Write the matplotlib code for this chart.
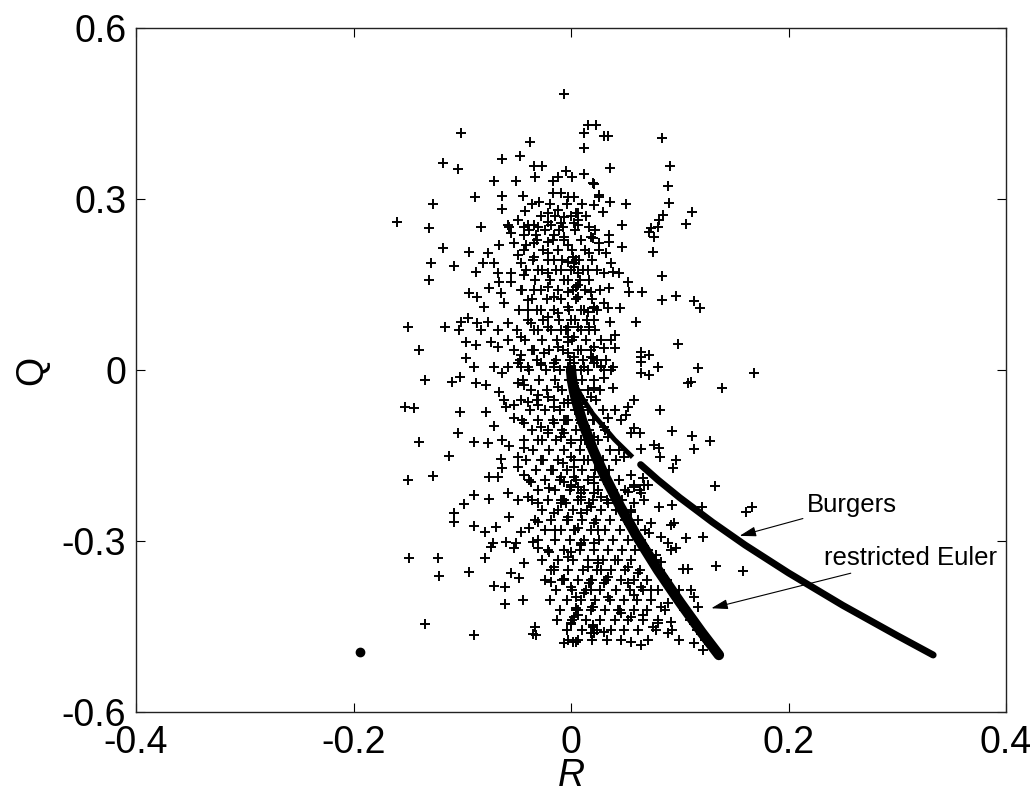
# Q-R invariant scatter with the Burgers and restricted Euler tails
import numpy as np
import matplotlib.pyplot as plt

plt.rcParams['font.family'] = ['Liberation Sans', 'DejaVu Sans']

# sample points (R, Q), grouped by height in the plane
cloud_upper = np.array([
    (-0.006, 0.484), (0.016, 0.430), (0.023, 0.430), (0.012, 0.416), (-0.101, 0.416), (-0.038, 0.400),
    (0.012, 0.389), (-0.118, 0.363), (-0.104, 0.353), (-0.063, 0.370), (-0.047, 0.375), (-0.034, 0.358),
    (-0.027, 0.358), (-0.005, 0.349), (-0.033, 0.339), (-0.051, 0.332), (-0.071, 0.332), (-0.017, 0.332),
    (-0.012, 0.339), (0.001, 0.339), (0.012, 0.344), (0.020, 0.328), (-0.088, 0.303), (-0.063, 0.305),
    (-0.044, 0.305), (-0.029, 0.295), (-0.017, 0.310), (-0.009, 0.310), (-0.003, 0.303), (0.003, 0.303),
    (-0.127, 0.291), (-0.063, 0.282), (-0.042, 0.279), (-0.021, 0.275), (-0.012, 0.281), (-0.006, 0.268),
    (0.006, 0.275), (0.021, 0.289), (0.026, 0.303), (-0.160, 0.260), (-0.131, 0.249), (-0.083, 0.251),
    (-0.058, 0.254), (-0.049, 0.263), (-0.043, 0.251), (-0.034, 0.254), (-0.021, 0.260), (-0.009, 0.258),
    (0.003, 0.258), (0.017, 0.251), (0.030, 0.410), (0.034, 0.410), (0.084, 0.407), (0.036, 0.354),
    (0.091, 0.358), (0.021, 0.326), (0.089, 0.323), (0.026, 0.307), (0.036, 0.295), (0.051, 0.291),
    (0.090, 0.293), (0.111, 0.277), (0.029, 0.277), (0.005, 0.275), (0.006, 0.263), (0.085, 0.272),
    (0.081, 0.263), (0.080, 0.251), (0.106, 0.256), (0.047, 0.254), (0.074, 0.249), (-0.057, 0.251),
    (-0.040, 0.254), (-0.030, 0.251), (-0.018, 0.254), (-0.007, 0.251), (0.006, 0.254), (-0.055, 0.240),
    (-0.043, 0.237), (-0.032, 0.237), (-0.016, 0.237), (-0.006, 0.233), (0.018, 0.233), (0.072, 0.242),
    (0.076, 0.233), (0.035, 0.237), (0.035, 0.225), (0.026, 0.223), (0.020, 0.232), (-0.003, 0.219),
    (0.047, 0.216), (-0.118, 0.214), (-0.094, 0.207), (-0.076, 0.205), (-0.066, 0.219), (-0.052, 0.223),
    (-0.041, 0.219), (-0.034, 0.223), (-0.021, 0.225), (0.075, 0.207), (0.017, 0.205), (0.032, 0.205),
])

cloud_mid = np.array([
    (-0.003, 0.189), (0.005, 0.193), (0.003, 0.181), (0.037, 0.188), (0.030, 0.170), (0.039, 0.172),
    (0.044, 0.170), (0.016, 0.175), (0.084, 0.165), (0.052, 0.154), (0.035, 0.144), (0.053, 0.137),
    (0.065, 0.137), (0.097, 0.130), (0.084, 0.123), (0.113, 0.121), (0.119, 0.109), (0.005, 0.146),
    (0.006, 0.128), (0.030, 0.118), (0.034, 0.109), (0.021, 0.109), (0.016, 0.102), (0.045, 0.109),
    (0.060, 0.084), (0.036, 0.084), (0.021, 0.088), (0.017, 0.075), (0.000, 0.088), (-0.003, 0.075),
    (0.040, 0.061), (0.037, 0.053), (0.003, 0.058), (-0.003, 0.049), (0.098, 0.046), (0.021, 0.040),
    (0.030, 0.039), (0.040, 0.039), (0.064, 0.032), (0.064, 0.023), (0.072, 0.026), (0.020, 0.021),
    (0.032, 0.018), (0.080, 0.005), (0.117, 0.004), (0.168, -0.005), (0.003, 0.023), (0.012, 0.005),
    (0.028, 0.007), (0.039, 0.005), (-0.129, 0.188), (-0.108, 0.182), (-0.087, 0.172), (-0.081, 0.188),
    (-0.071, 0.188), (-0.049, 0.202), (-0.046, 0.188), (-0.034, 0.198), (-0.021, 0.205), (-0.016, 0.193),
    (0.002, 0.198), (0.003, 0.188), (-0.131, 0.158), (-0.067, 0.170), (-0.055, 0.170), (-0.066, 0.154),
    (-0.055, 0.154), (-0.043, 0.167), (-0.030, 0.175), (-0.021, 0.170), (-0.009, 0.175), (-0.003, 0.158),
    (0.006, 0.170), (-0.075, 0.144), (-0.094, 0.135), (-0.086, 0.128), (-0.064, 0.135), (-0.062, 0.118),
    (-0.046, 0.140), (-0.040, 0.123), (-0.034, 0.140), (-0.021, 0.146), (-0.016, 0.128), (-0.003, 0.137),
    (0.006, 0.149), (0.018, 0.137), (-0.080, 0.111), (-0.040, 0.105), (-0.028, 0.105), (-0.021, 0.093),
    (-0.012, 0.100), (-0.003, 0.111), (0.009, 0.105), (0.021, 0.111), (-0.150, 0.075), (-0.116, 0.075),
    (-0.101, 0.084), (-0.095, 0.091), (-0.103, 0.070), (-0.086, 0.082), (-0.076, 0.084), (-0.083, 0.070),
    (-0.067, 0.070), (-0.058, 0.082), (-0.046, 0.058), (-0.037, 0.082), (-0.030, 0.070), (-0.021, 0.075),
    (-0.009, 0.070), (-0.003, 0.058), (0.006, 0.075), (0.017, 0.070), (-0.140, 0.035), (-0.097, 0.049),
    (-0.087, 0.044), (-0.074, 0.049), (-0.067, 0.040), (-0.058, 0.053), (-0.052, 0.035), (-0.046, 0.026),
    (-0.034, 0.035), (-0.025, 0.030), (-0.012, 0.040), (-0.003, 0.030), (0.009, 0.035), (0.018, 0.023),
    (-0.097, 0.021), (-0.089, 0.005), (-0.071, 0.005), (-0.058, 0.005), (-0.046, 0.005), (-0.028, 0.012),
    (-0.016, 0.005), (0.003, 0.012), (-0.063, -0.005), (-0.049, 0.012), (-0.040, 0.005), (-0.028, 0.009),
    (-0.016, 0.012), (-0.003, 0.005), (0.009, 0.000), (0.021, 0.012), (-0.134, -0.018), (-0.109, -0.021),
    (-0.102, -0.012), (-0.087, -0.023), (-0.078, -0.026), (-0.066, -0.039), (-0.062, -0.053), (-0.060, -0.065),
    (-0.049, -0.023), (-0.043, -0.026), (-0.030, -0.044), (-0.021, -0.047), (-0.012, -0.030), (0.003, -0.023),
    (0.016, -0.035), (-0.153, -0.065), (-0.144, -0.067), (-0.102, -0.074), (-0.078, -0.074), (-0.052, -0.061),
    (-0.040, -0.056), (-0.030, -0.061), (-0.016, -0.065), (-0.003, -0.058), (0.009, -0.065), (-0.071, -0.098),
    (-0.052, -0.084), (-0.043, -0.093), (-0.028, -0.100), (-0.016, -0.093), (-0.003, -0.088), (0.009, -0.093),
    (0.021, -0.088), (0.028, 0.005), (0.037, 0.000), (0.030, -0.014), (0.064, 0.014), (0.064, -0.005),
    (0.072, -0.009), (0.080, 0.005), (0.108, -0.023), (0.110, -0.021), (0.139, -0.032), (0.039, -0.032),
    (0.021, -0.032), (0.018, -0.047), (0.058, -0.053), (0.052, -0.065), (0.051, -0.079), (0.046, -0.088),
    (0.082, -0.070), (0.040, -0.070), (0.034, -0.084), (0.006, -0.070), (-0.006, -0.058), (-0.005, -0.088),
])

cloud_lower = np.array([
    (0.030, -0.100), (0.034, -0.118), (0.058, -0.102), (0.055, -0.111), (0.063, -0.111), (0.093, -0.107),
    (0.111, -0.116), (0.128, -0.125), (0.113, -0.139), (0.064, -0.139), (0.076, -0.132), (0.081, -0.137),
    (0.082, -0.153), (0.097, -0.158), (0.094, -0.172), (0.044, -0.140), (0.049, -0.153), (0.055, -0.184),
    (0.058, -0.205), (0.052, -0.214), (0.066, -0.189), (0.071, -0.202), (0.063, -0.211), (0.132, -0.204),
    (0.067, -0.228), (0.081, -0.240), (0.093, -0.237), (0.120, -0.240), (0.166, -0.240), (0.161, -0.249),
    (-0.006, -0.196), (0.003, -0.188), (0.006, -0.205), (0.021, -0.198), (0.028, -0.223), (0.009, -0.228),
    (-0.005, -0.233), (0.017, -0.233), (0.034, -0.233), (0.018, -0.135), (0.009, -0.123), (-0.006, -0.111),
    (0.000, -0.153), (0.012, -0.158), (-0.007, -0.163), (0.012, -0.100), (-0.104, -0.111), (-0.140, -0.126),
    (-0.089, -0.126), (-0.076, -0.128), (-0.063, -0.123), (-0.057, -0.133), (-0.049, -0.153), (-0.043, -0.137),
    (-0.030, -0.123), (-0.021, -0.111), (-0.009, -0.118), (0.000, -0.128), (0.009, -0.123), (0.021, -0.118),
    (-0.112, -0.151), (-0.064, -0.156), (-0.063, -0.172), (-0.150, -0.193), (-0.127, -0.186), (-0.075, -0.188),
    (-0.067, -0.188), (-0.049, -0.170), (-0.043, -0.184), (-0.037, -0.196), (-0.028, -0.158), (-0.018, -0.175),
    (-0.009, -0.188), (0.003, -0.170), (0.012, -0.158), (0.021, -0.188), (-0.089, -0.219), (-0.098, -0.235),
    (-0.075, -0.226), (-0.058, -0.216), (-0.049, -0.228), (-0.040, -0.223), (-0.030, -0.233), (-0.020, -0.207),
    (-0.009, -0.228), (0.000, -0.205), (0.009, -0.216), (0.021, -0.216), (-0.108, -0.251), (-0.108, -0.267),
    (-0.089, -0.274), (-0.079, -0.284), (-0.069, -0.275), (-0.057, -0.258), (-0.046, -0.284), (-0.039, -0.277),
    (-0.030, -0.267), (-0.016, -0.251), (-0.009, -0.233), (-0.003, -0.263), (0.003, -0.281), (0.009, -0.251),
    (0.018, -0.240), (0.025, -0.281), (-0.015, -0.281), (-0.072, -0.303), (-0.074, -0.310), (-0.060, -0.302),
    (-0.051, -0.303), (-0.052, -0.312), (-0.035, -0.302), (-0.030, -0.312), (-0.020, -0.319), (-0.006, -0.316),
    (0.000, -0.319), (0.009, -0.303), (0.021, -0.303), (-0.149, -0.330), (-0.122, -0.330), (-0.079, -0.330),
    (-0.121, -0.361), (-0.094, -0.354), (-0.043, -0.339), (-0.055, -0.356), (-0.048, -0.365), (-0.016, -0.346),
    (-0.016, -0.351), (0.016, -0.346), (0.025, -0.333), (-0.071, -0.379), (-0.061, -0.381), (-0.018, -0.372),
    (-0.006, -0.367), (0.000, -0.381), (0.017, -0.374), (0.018, -0.386), (0.005, -0.398), (0.012, -0.391),
    (-0.044, -0.403), (-0.061, -0.410), (0.019, -0.416), (0.005, -0.418), (0.006, -0.430), (-0.134, -0.446),
    (0.000, -0.446), (0.020, -0.451), (0.018, -0.461), (-0.033, -0.451), (-0.035, -0.463), (-0.032, -0.465),
    (-0.089, -0.465), (-0.006, -0.479), (0.002, -0.477), (0.092, -0.272), (0.095, -0.268), (0.106, -0.295),
    (0.121, -0.293), (0.133, -0.344), (0.158, -0.353), (0.103, -0.349), (0.108, -0.349), (0.083, -0.293),
    (0.089, -0.304), (0.092, -0.316), (0.097, -0.312), (0.074, -0.268), (0.072, -0.286), (0.064, -0.304),
    (0.078, -0.325), (0.083, -0.337), (0.058, -0.233), (0.055, -0.249), (0.064, -0.216), (0.067, -0.202),
    (0.058, -0.202), (0.009, -0.223), (0.000, -0.202), (-0.006, -0.228), (-0.003, -0.258), (0.006, -0.277),
    (0.009, -0.307), (0.021, -0.268), (-0.006, -0.316), (-0.003, -0.328), (0.025, -0.339), (0.028, -0.351),
    (0.034, -0.363), (0.030, -0.374), (0.040, -0.333), (0.052, -0.346), (0.062, -0.356), (0.052, -0.374),
    (0.058, -0.395), (0.064, -0.381), (0.074, -0.386), (-0.006, -0.368), (0.018, -0.368), (0.034, -0.398),
    (0.020, -0.416), (0.006, -0.421), (0.003, -0.433), (0.000, -0.444), (0.043, -0.421), (0.046, -0.426),
    (0.055, -0.433), (0.066, -0.430), (0.020, -0.447), (0.021, -0.461), (0.030, -0.460), (0.055, -0.477),
    (0.064, -0.482), (0.075, -0.451), (0.080, -0.444), (0.089, -0.461), (0.092, -0.442), (0.083, -0.416),
    (0.089, -0.409), (0.099, -0.386), (0.110, -0.386), (0.113, -0.398), (0.117, -0.416), (-0.003, -0.474),
    (0.005, -0.477), (0.113, -0.479), (0.121, -0.491), (0.131, -0.486), (0.135, -0.496),
])

# the crowded centre of the cloud, one row of R values per Q level
core_rows = {
    0.292: [-0.036, -0.019, -0.004, 0.010],
    0.271: [-0.028, -0.015, 0.000, 0.014],
    0.246: [-0.039, -0.024, -0.011, 0.004, 0.022],
    0.228: [-0.031, -0.017, -0.006, 0.009],
    0.211: [-0.043, -0.026, -0.012, 0.001, 0.013, 0.026],
    0.193: [-0.035, -0.021, -0.008, 0.007, 0.019],
    0.176: [-0.041, -0.027, -0.014, 0.000, 0.011, 0.024],
    0.158: [-0.033, -0.019, -0.006, 0.008, 0.017],
    0.141: [-0.045, -0.028, -0.012, 0.002, 0.013, 0.027],
    0.124: [-0.036, -0.022, -0.009, 0.005, 0.019],
    0.106: [-0.048, -0.031, -0.016, -0.002, 0.012, 0.024],
    0.088: [-0.040, -0.026, -0.011, 0.004, 0.015],
    0.070: [-0.050, -0.034, -0.018, -0.005, 0.009, 0.022],
    0.053: [-0.042, -0.027, -0.013, 0.001, 0.014, 0.028],
    0.035: [-0.036, -0.020, -0.007, 0.006, 0.018],
    0.018: [-0.047, -0.031, -0.014, -0.001, 0.011, 0.024],
    0.000: [-0.039, -0.023, -0.010, 0.004, 0.016, 0.030],
    -0.018: [-0.044, -0.029, -0.015, -0.002, 0.010, 0.021],
    -0.035: [-0.037, -0.022, -0.008, 0.006, 0.027],
    -0.053: [-0.046, -0.031, -0.016, -0.003, 0.011, 0.023],
    -0.070: [-0.038, -0.024, -0.010, 0.004, 0.016, 0.029],
    -0.088: [-0.045, -0.030, -0.017, -0.006, 0.008, 0.020],
    -0.105: [-0.036, -0.021, -0.008, 0.005, 0.017, 0.031],
    -0.123: [-0.043, -0.027, -0.014, 0.000, 0.013, 0.025],
    -0.140: [-0.035, -0.020, -0.006, 0.008, 0.020, 0.036],
    -0.158: [-0.041, -0.026, -0.012, 0.003, 0.016, 0.029, 0.041],
    -0.175: [-0.032, -0.017, -0.004, 0.010, 0.022, 0.035],
    -0.193: [-0.039, -0.024, -0.010, 0.005, 0.016, 0.030, 0.044],
    -0.211: [-0.030, -0.015, -0.001, 0.012, 0.025, 0.039, 0.050],
    -0.228: [-0.036, -0.021, -0.007, 0.006, 0.020, 0.033, 0.047],
    -0.246: [-0.027, -0.012, 0.002, 0.015, 0.028, 0.041, 0.055],
    -0.263: [-0.033, -0.018, -0.004, 0.010, 0.023, 0.036, 0.050, 0.062],
    -0.281: [-0.024, -0.009, 0.004, 0.018, 0.031, 0.045, 0.057, 0.068],
    -0.298: [-0.030, -0.015, -0.001, 0.012, 0.026, 0.039, 0.052, 0.064],
    -0.316: [-0.021, -0.006, 0.008, 0.021, 0.034, 0.047, 0.059, 0.071],
    -0.333: [-0.027, -0.012, 0.002, 0.016, 0.029, 0.043, 0.055, 0.077],
    -0.351: [-0.018, -0.003, 0.011, 0.024, 0.037, 0.050, 0.063, 0.082],
    -0.368: [-0.024, -0.008, 0.006, 0.019, 0.032, 0.046, 0.058, 0.070, 0.088],
    -0.386: [-0.014, 0.001, 0.014, 0.027, 0.041, 0.054, 0.066, 0.080, 0.093],
    -0.403: [-0.019, -0.004, 0.009, 0.022, 0.036, 0.049, 0.061, 0.074, 0.099],
    -0.421: [-0.010, 0.005, 0.018, 0.031, 0.045, 0.058, 0.070, 0.086, 0.104],
    -0.438: [-0.013, 0.001, 0.014, 0.027, 0.040, 0.052, 0.066, 0.080, 0.109],
    -0.456: [-0.004, 0.010, 0.024, 0.037, 0.049, 0.062, 0.078, 0.093, 0.116],
    -0.473: [0.006, 0.019, 0.033, 0.046, 0.071, 0.099, 0.123],
}

# Burgers vortex tail
burgers_R = [0.0, 0.005, 0.01, 0.02, 0.04, 0.055, 0.064, 0.08, 0.10, 0.13, 0.16, 0.20, 0.25, 0.30, 0.333]
burgers_Q = [0.0, -0.030, -0.048, -0.077, -0.122, -0.150, -0.166, -0.193, -0.224, -0.267, -0.307, -0.356,
             -0.413, -0.466, -0.500]

# restricted Euler tail
euler_R = [0.0, 0.001, 0.003, 0.006, 0.01, 0.02, 0.03, 0.045, 0.06, 0.08, 0.10, 0.12, 0.136]
euler_Q = [0.0, -0.019, -0.039, -0.062, -0.088, -0.139, -0.182, -0.239, -0.290, -0.351, -0.407, -0.460, -0.500]

dot_R = [-0.194]
dot_Q = [-0.495]

fig = plt.figure(figsize=(10.35, 7.95), dpi=100)
ax = fig.add_axes([0.1314, 0.1044, 0.8406, 0.8604])

core_R = [r for q, rs in core_rows.items() for r in rs]
core_Q = [q for q, rs in core_rows.items() for r in rs]
ax.plot(core_R, core_Q, '+', color='k', ms=7.5, mew=1.4)
for grp in (cloud_upper, cloud_mid, cloud_lower):
    ax.plot(grp[:, 0], grp[:, 1], '+', color='k', ms=7.5, mew=1.4)

ax.plot(euler_R, euler_Q, '-', color='k', lw=7.5, solid_capstyle='round')
# the Burgers tail is thin inside the cloud and solid past R ~ 0.06
ax.plot(burgers_R[:6], burgers_Q[:6], '-', color='k', lw=3.5)
ax.plot(burgers_R[6:], burgers_Q[6:], '-', color='k', lw=5, solid_capstyle='round')
ax.plot(dot_R, dot_Q, 'o', color='k', ms=6)

arr = dict(arrowstyle='-|>,head_length=1.0,head_width=0.3', color='k', lw=0.8,
           shrinkA=1, shrinkB=0, mutation_scale=10)
ax.annotate('Burgers', xy=(0.155, -0.291), xytext=(0.217, -0.237),
            ha='left', va='center', fontsize=18.5, arrowprops=arr)
ax.annotate('restricted Euler', xy=(0.129, -0.418), xytext=(0.233, -0.330),
            ha='left', va='center', fontsize=18.5, arrowprops=arr)

ax.set_xlim(-0.4, 0.4)
ax.set_ylim(-0.6, 0.6)
ax.set_xticks([-0.4, -0.2, 0, 0.2, 0.4])
ax.set_yticks([-0.6, -0.3, 0, 0.3, 0.6])
ax.set_xticklabels(['-0.4', '-0.2', '0', '0.2', '0.4'])
ax.set_yticklabels(['-0.6', '-0.3', '0', '0.3', '0.6'])
ax.tick_params(direction='in', length=6.5, width=0.8, labelsize=27,
               top=True, right=True, pad=7)
ax.tick_params(axis='x', pad=9)
for s in ax.spines.values():
    s.set_linewidth(1.0)
    s.set_color('#222222')

ax.set_xlabel('R', fontsize=27, style='italic', labelpad=-2)
ax.set_ylabel('Q', fontsize=27, labelpad=8)

fig.savefig('out.png', dpi=100)
